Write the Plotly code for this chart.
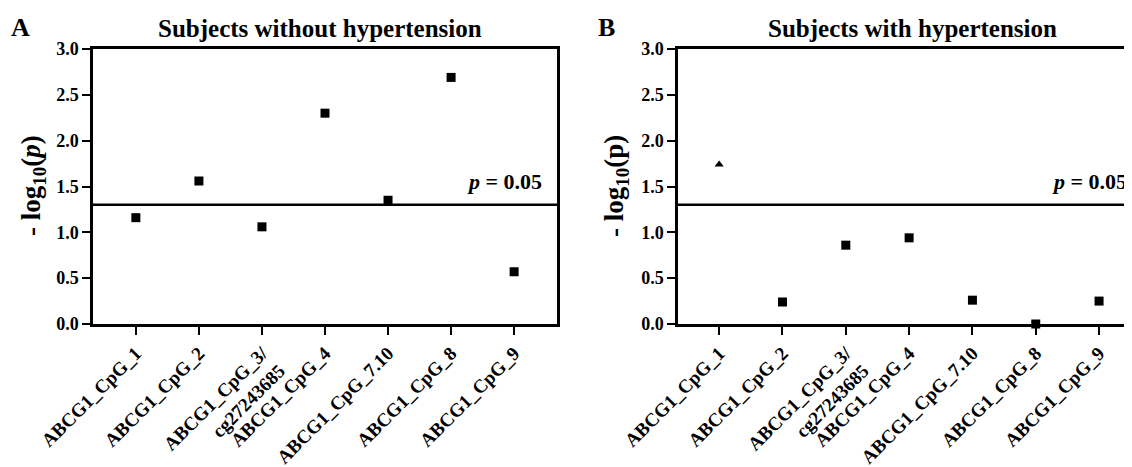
import numpy as np
import plotly.graph_objects as go

# ---- data ----
cpg_sites = ["ABCG1_CpG_1", "ABCG1_CpG_2", "ABCG1_CpG_3/<br>cg27243685", "ABCG1_CpG_4",
             "ABCG1_CpG_7.10", "ABCG1_CpG_8", "ABCG1_CpG_9"]
neglogp_without_htn = [1.16, 1.56, 1.06, 2.30, 1.35, 2.69, 0.57]
neglogp_with_htn = [1.74, 0.24, 0.86, 0.94, 0.26, 0.00, 0.25]
symbols_with_htn = ["triangle-up", "square", "square", "square", "square", "square", "square"]
alpha = 0.05
threshold = -np.log10(alpha)
y_ticks = [0.0, 0.5, 1.0, 1.5, 2.0, 2.5, 3.0]

FONT = "Liberation Serif"
OFF = 8  # default page body margin
W, H = 1132 - OFF, 467 - OFF

def pxx(v):
    return (v - OFF) / W

def pxy(v):
    return 1 - (v - OFF) / H

fig = go.Figure()
fig.add_trace(go.Scatter(x=cpg_sites, y=neglogp_without_htn, mode="markers",
                         marker=dict(symbol="square", size=9, color="black", opacity=1,
                                     line=dict(width=0)),
                         opacity=1, cliponaxis=False, showlegend=False, xaxis="x", yaxis="y"))
fig.add_trace(go.Scatter(x=cpg_sites, y=neglogp_with_htn, mode="markers",
                         marker=dict(symbol=symbols_with_htn,
                                     size=[8 if s == "triangle-up" else 9 for s in symbols_with_htn],
                                     color="black", opacity=1, line=dict(width=0)),
                         opacity=1, cliponaxis=False, showlegend=False, xaxis="x2", yaxis="y2"))

ydom = [pxy(324), pxy(49)]
common_x = dict(type="category", showline=True, linecolor="black", linewidth=2.5,
                ticks="outside", ticklen=8, tickwidth=2, tickcolor="black",
                tickangle=-45, tickfont=dict(family=FONT, size=19, color="black", weight="bold"),
                showgrid=False, zeroline=False, fixedrange=True, automargin=False)
common_y = dict(range=[0, 3], tickvals=y_ticks, tickformat=".1f",
                showline=True, linecolor="black", linewidth=2.5,
                ticks="outside", ticklen=8, tickwidth=2, tickcolor="black",
                tickfont=dict(family=FONT, size=18, color="black", weight="bold"),
                showgrid=False, zeroline=False, domain=ydom, automargin=False, fixedrange=True)

fig.update_layout(
    width=W, height=H, autosize=False,
    margin=dict(l=0, r=0, t=0, b=0, pad=0, autoexpand=False),
    plot_bgcolor="white", paper_bgcolor="white",
    xaxis=dict(common_x, domain=[pxx(93), pxx(557)], range=[-0.68, 6.68],
               anchor="y", mirror=True),
    yaxis=dict(common_y, anchor="x", mirror=True),
    xaxis2=dict(common_x, domain=[pxx(678), 1.0], range=[-0.65, 6.52],
                anchor="y2", mirror=True),
    yaxis2=dict(common_y, anchor="x2", mirror=False),
)

# threshold lines
for xr, yr in [("x domain", "y"), ("x2 domain", "y2")]:
    fig.add_shape(type="line", xref=xr, x0=0, x1=1, yref=yr, y0=threshold, y1=threshold,
                  line=dict(color="black", width=2.5))

annos = []
# p = 0.05 labels
for xr, yr in [("x", "y"), ("x2", "y2")]:
    annos.append(dict(text="<b><i>p</i> = 0.05</b>", xref=xr, yref=yr, x=6.48, y=1.56,
                      xanchor="right", yanchor="middle", showarrow=False,
                      font=dict(family=FONT, size=22, color="black")))
# panel titles
annos.append(dict(text="<b>Subjects without hypertension</b>", xref="paper", yref="paper",
                  x=pxx(320), y=pxy(28), xanchor="center", yanchor="middle",
                  showarrow=False, font=dict(family=FONT, size=25, color="black")))
annos.append(dict(text="<b>Subjects with hypertension</b>", xref="paper", yref="paper",
                  x=pxx(912), y=pxy(28), xanchor="center", yanchor="middle",
                  showarrow=False, font=dict(family=FONT, size=25, color="black")))
# panel letters
annos.append(dict(text="<b>A</b>", xref="paper", yref="paper", x=pxx(20), y=pxy(27),
                  xanchor="center", yanchor="middle", showarrow=False,
                  font=dict(family=FONT, size=26, color="black")))
annos.append(dict(text="<b>B</b>", xref="paper", yref="paper", x=pxx(606), y=pxy(27),
                  xanchor="center", yanchor="middle", showarrow=False,
                  font=dict(family=FONT, size=26, color="black")))
# y-axis titles
annos.append(dict(text="<b>- log<sub>10</sub>(<i>p</i>)</b>", xref="paper", yref="paper",
                  x=pxx(33), y=pxy(186), xanchor="center", yanchor="middle",
                  textangle=-90, showarrow=False, font=dict(family=FONT, size=27, color="black")))
annos.append(dict(text="<b>- log<sub>10</sub>(p)</b>", xref="paper", yref="paper",
                  x=pxx(616), y=pxy(186), xanchor="center", yanchor="middle",
                  textangle=-90, showarrow=False, font=dict(family=FONT, size=27, color="black")))
fig.update_layout(annotations=annos)

fig.write_html("out.html")
